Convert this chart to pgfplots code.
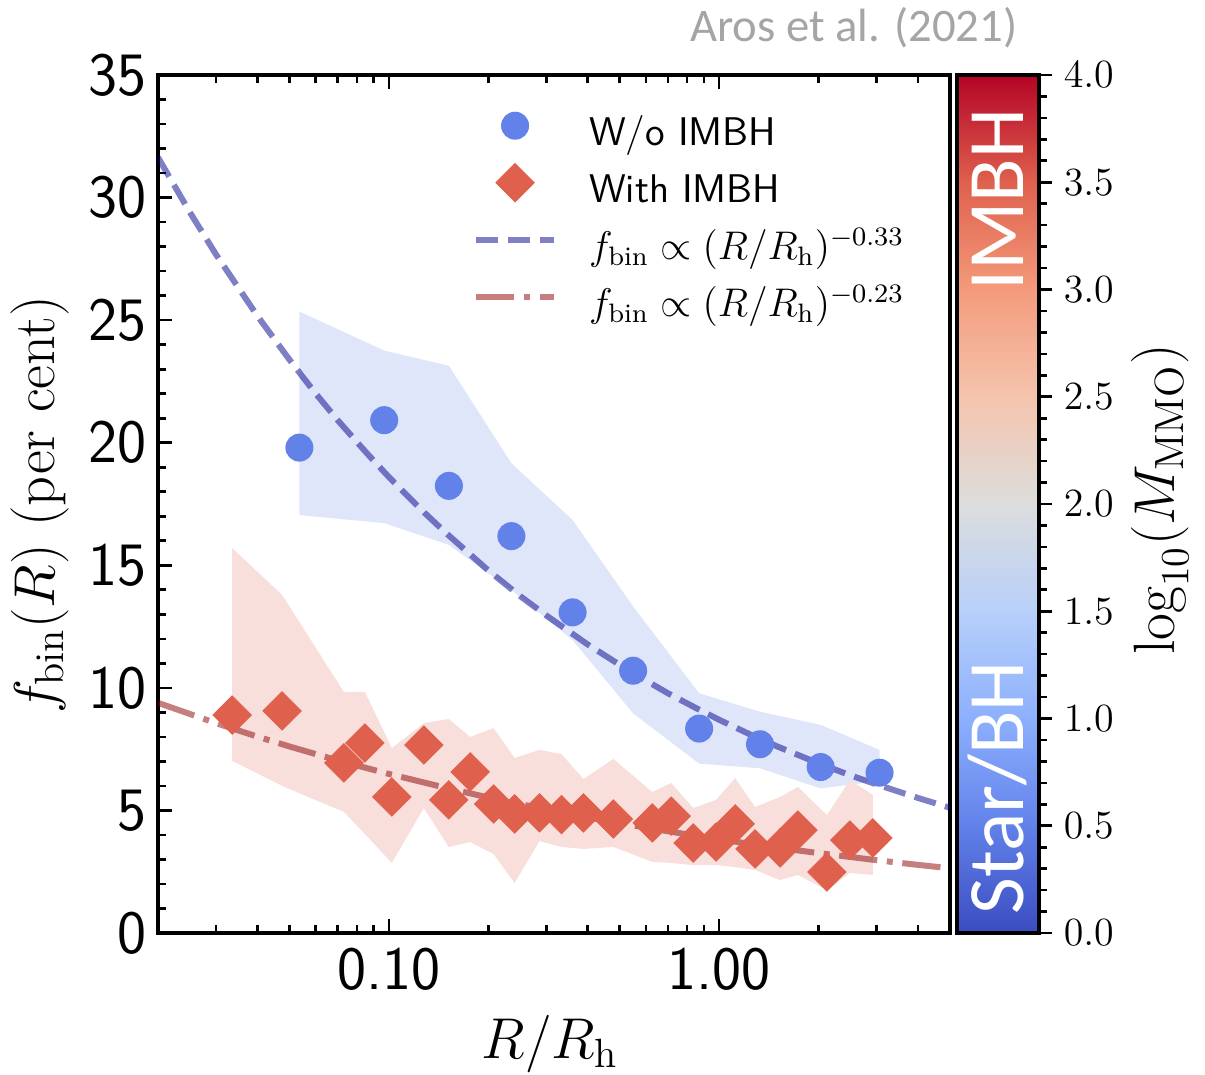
\documentclass[border=0pt]{standalone}
\usepackage{pgfplots}
\pgfplotsset{compat=1.18}
\usepackage{fontspec}
\newfontfamily\carlito{Carlito}
\definecolor{cblue}{RGB}{98,130,234}
\definecolor{cred}{RGB}{222,96,77}
\definecolor{lblue}{RGB}{0,0,139}
\definecolor{lred}{RGB}{139,0,0}
\definecolor{bandblue}{RGB}{223,230,250}
\definecolor{bandred}{RGB}{248,223,219}
\definecolor{credit}{RGB}{165,165,165}
\definecolor{cm0}{RGB}{59,76,192}
\definecolor{cm1}{RGB}{98,130,234}
\definecolor{cm2}{RGB}{141,176,254}
\definecolor{cm3}{RGB}{184,208,249}
\definecolor{cm4}{RGB}{221,221,221}
\definecolor{cm5}{RGB}{245,196,173}
\definecolor{cm6}{RGB}{244,154,123}
\definecolor{cm7}{RGB}{222,96,77}
\definecolor{cm8}{RGB}{180,4,38}
\begin{document}
\begin{tikzpicture}
\path[use as bounding box] (-47.4pt,-42.3pt) rectangle (314.1pt,279.9pt);
\begin{axis}[
  at={(0pt,0pt)}, anchor=south west,
  scale only axis, width=237.6pt, height=257.4pt,
  xmode=log, xmin=0.02, xmax=5, ymin=0, ymax=35,
  xtick={0.1,1}, xticklabels={0.10,1.00},
  minor xtick={0.02,0.03,0.04,0.05,0.06,0.07,0.08,0.09,0.2,0.3,0.4,0.5,0.6,0.7,0.8,0.9,2,3,4,5},
  ytick={0,5,10,15,20,25,30,35}, minor y tick num=4,
  tick align=inside, xtick pos=both, xticklabel pos=lower, ytick pos=left,
  major tick length=4.3pt, minor tick length=2.4pt,
  axis line style={line width=1.1pt},
  every tick/.style={line width=0.8pt, black},
  /pgf/number format/assume math mode=true,
  yticklabel style={font=\sffamily\fontsize{18.5}{18.5}\selectfont},
  xticklabel style={font=\sffamily\fontsize{18.5}{18.5}\selectfont, yshift=-1pt},
  xlabel={$R/R_{\rm h}$},
  ylabel={$f_{\rm bin}(R)$ (per cent)},
  label style={font=\fontsize{17.5}{18}\selectfont},
  xlabel style={at={(axis description cs:0.495,-0.13)}, anchor=center},
  ylabel style={at={(axis description cs:-0.149,0.499)}, anchor=center},
  legend image code/.code={\path[draw=none,fill=none] (0pt,-3pt) rectangle (23.4pt,9pt); \draw[mark repeat=2,mark phase=2,#1] plot coordinates {(0pt,3pt) (11.7pt,3pt) (23.4pt,3pt)};},
  legend cell align=left,
  legend style={draw=none, fill=none, at={(0.397,0.965)}, anchor=north west,
    inner sep=0pt, row sep=2.1pt, font=\fontsize{12}{14}\selectfont,
    nodes={inner sep=0pt, text height=9pt, text depth=3pt},
    /tikz/every odd column/.append style={column sep=9.6pt}},
]
% bands
\addplot[fill=bandblue, draw=none, forget plot] coordinates {
(0.0536,25.35) (0.0968,23.76) (0.152,23.14) (0.235,19.16) (0.360,16.85) (0.549,13.32) (0.870,9.78) (1.33,9.03) (2.03,8.49) (3.06,7.47)
(3.06,6.20) (2.03,5.90) (1.33,6.72) (0.870,6.91) (0.549,8.96) (0.360,11.95) (0.235,13.99) (0.152,15.83) (0.0968,16.72) (0.0536,17.05)
} -- cycle;
\addplot[fill=bandred, draw=none, forget plot] coordinates {
(0.03355,15.70) (0.04751,13.79) (0.0731,9.83) (0.0846,9.84) (0.1021,7.54) (0.1276,8.56) (0.1518,8.73) (0.1763,8.00) (0.2076,8.36) (0.2403,7.14) (0.2859,7.47) (0.3332,7.30) (0.3883,6.28) (0.4784,7.10) (0.6276,5.75) (0.7161,6.12) (0.8349,5.10) (0.9793,5.43) (1.118,6.32) (1.285,5.14) (1.529,5.55) (1.733,5.96) (2.12,4.81) (2.488,6.24) (2.92,5.63)
(2.92,2.37) (2.488,2.45) (2.12,1.75) (1.733,2.37) (1.529,2.16) (1.285,2.57) (1.118,2.69) (0.9793,2.77) (0.8349,2.77) (0.7161,2.86) (0.6276,2.90) (0.4784,3.51) (0.3883,3.43) (0.3332,3.51) (0.2859,3.75) (0.2403,2.04) (0.2076,3.22) (0.1763,3.71) (0.1518,3.51) (0.1276,5.10) (0.1021,2.86) (0.0846,4.04) (0.0731,4.94) (0.04751,6.00) (0.03355,7.02)
} -- cycle;
% markers
\addplot[only marks, color=cblue, mark=*, mark size=4pt] coordinates {
(0.0536,19.80) (0.0968,20.92) (0.152,18.24) (0.235,16.19) (0.360,13.08) (0.549,10.70) (0.870,8.34) (1.33,7.70) (2.03,6.77) (3.06,6.54)
};
\addlegendentry{\sffamily W/o IMBH}
\addplot[only marks, color=cred, mark=square*, mark size=4pt, mark options={rotate=45}] coordinates {
(0.03355,8.89) (0.04751,9.06) (0.0731,6.94) (0.0846,7.75) (0.1021,5.55) (0.1276,7.67) (0.1518,5.43) (0.1763,6.57) (0.2076,5.26) (0.2403,4.86) (0.2859,4.90) (0.3332,4.83) (0.3883,4.90) (0.4784,4.65) (0.6276,4.49) (0.7161,4.77) (0.8349,3.67) (0.9793,3.71) (1.118,4.45) (1.285,3.43) (1.529,3.47) (1.733,4.20) (2.12,2.49) (2.488,3.79) (2.92,3.88)
};
\addlegendentry{\sffamily With IMBH}
% fits
\addplot[lblue, opacity=0.5, line width=1.8pt, dash pattern=on 6.66pt off 2.88pt] coordinates {
(0.02,31.64) (0.025,29.39) (0.03,27.67) (0.04,25.17) (0.05,23.39) (0.06,22.01) (0.07,20.92) (0.085,19.63) (0.1,18.60) (0.125,17.28) (0.15,16.28) (0.2,14.79) (0.25,13.74) (0.3,12.95) (0.4,11.77) (0.5,10.94) (0.6,10.30) (0.7,9.78) (0.85,9.18) (1,8.70) (1.25,8.08) (1.5,7.61) (2,6.92) (2.5,6.43) (3,6.06) (4,5.51) (5,5.11)
};
\addlegendentry{$f_{\rm bin}\propto(R/R_{\rm h})^{-0.33}$}
\addplot[lred, opacity=0.5, line width=1.8pt, dash pattern=on 11.52pt off 2.88pt on 1.8pt off 2.88pt] coordinates {
(0.02,9.39) (0.03,8.56) (0.04,8.01) (0.05,7.61) (0.07,7.04) (0.1,6.49) (0.15,5.91) (0.2,5.53) (0.3,5.04) (0.4,4.72) (0.5,4.48) (0.7,4.15) (1,3.82) (1.5,3.48) (2,3.26) (3,2.97) (4,2.78) (5,2.64)
};
\addlegendentry{$f_{\rm bin}\propto(R/R_{\rm h})^{-0.23}$}
\end{axis}
% colour bar
\begin{axis}[
  at={(239.7pt,0pt)}, anchor=south west,
  scale only axis, width=24.6pt, height=257.4pt,
  xmin=0, xmax=1, ymin=0, ymax=4, axis on top,
  xtick=\empty, ytick={0,0.5,1,1.5,2,2.5,3,3.5,4}, minor y tick num=4,
  ytick pos=right, yticklabel pos=right,
  tick align=outside, major tick length=3.9pt, minor tick length=2.4pt,
  axis line style={line width=1.1pt},
  every tick/.style={line width=0.8pt, black},
  yticklabel style={/pgf/number format/.cd, fixed, fixed zerofill, precision=1, /tikz/.cd, font=\fontsize{11.5}{12}\selectfont},
  ylabel={$\log_{10}(M_{\rm MMO})$},
  ylabel style={font=\fontsize{17.5}{18}\selectfont, at={(axis description cs:2.476,0.505)}, anchor=center},
]
\shade[bottom color=cm0, top color=cm1] (axis cs:0,0) rectangle (axis cs:1,0.51);
\shade[bottom color=cm1, top color=cm2] (axis cs:0,0.5) rectangle (axis cs:1,1.01);
\shade[bottom color=cm2, top color=cm3] (axis cs:0,1) rectangle (axis cs:1,1.51);
\shade[bottom color=cm3, top color=cm4] (axis cs:0,1.5) rectangle (axis cs:1,2.01);
\shade[bottom color=cm4, top color=cm5] (axis cs:0,2) rectangle (axis cs:1,2.51);
\shade[bottom color=cm5, top color=cm6] (axis cs:0,2.5) rectangle (axis cs:1,3.01);
\shade[bottom color=cm6, top color=cm7] (axis cs:0,3) rectangle (axis cs:1,3.51);
\shade[bottom color=cm7, top color=cm8] (axis cs:0,3.5) rectangle (axis cs:1,4);
\end{axis}
\node[rotate=90, text=white, font=\carlito\fontsize{24}{24}\selectfont] at (251.8pt,219.9pt) {IMBH};
\node[rotate=90, text=white, font=\carlito\fontsize{24}{24}\selectfont] at (251.7pt,43.6pt) {Star/BH};
\node[anchor=east, text=credit, font=\carlito\fontsize{14}{14}\selectfont, inner sep=0pt] at (258pt,271.5pt) {Aros et al. (2021)};
\end{tikzpicture}
\end{document}
